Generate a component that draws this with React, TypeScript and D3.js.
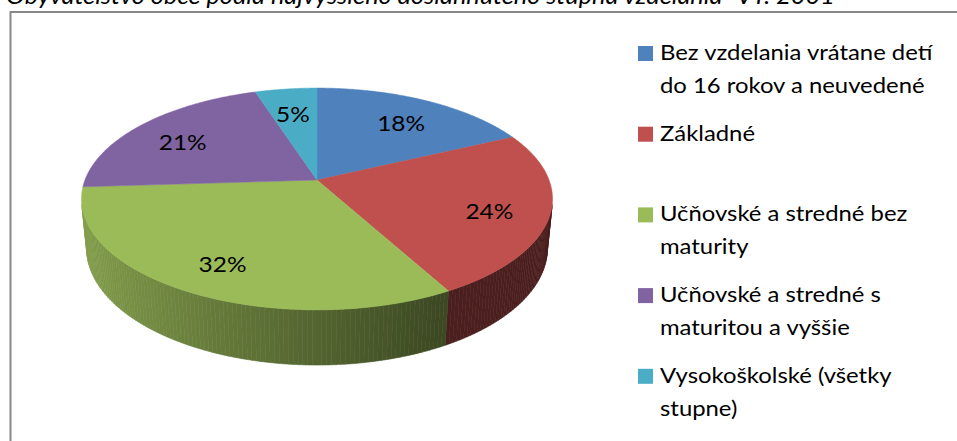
import React from "react";
import * as d3 from "d3";

const title = "Obyvateľstvo obce podľa najvyššieho dosiahnutého stupňa vzdelania- VT. 2001";
const categories = [
  "Bez vzdelania vrátane detí do 16 rokov a neuvedené",
  "Základné",
  "Učňovské a stredné bez maturity",
  "Učňovské a stredné s maturitou a vyššie",
  "Vysokoškolské (všetky stupne)",
];
const legendLines = [
  ["Bez vzdelania vrátane detí", "do 16 rokov a neuvedené"],
  ["Základné"],
  ["Učňovské a stredné bez", "maturity"],
  ["Učňovské a stredné s", "maturitou a vyššie"],
  ["Vysokoškolské (všetky", "stupne)"],
];
const values = [18, 24, 32, 21, 5];
const colors = ["#4F81BD", "#C0504D", "#9BBB59", "#8064A2", "#4BACC6"];

const W = 957;
const H = 441;
const FONT = "Lato, 'Open Sans', sans-serif";
const STRETCH = 1.11;

// perspective camera
const cx = 317;
const cy = 180;
const sinA = 0.464;
const cosA = Math.sqrt(1 - sinA * sinA);
const L = 5.18;
const F = 1202;
const depthH = 0.242;

function proj(r: number, theta: number, y: number): [number, number] {
  const u = r * Math.sin(theta);
  const v = r * Math.cos(theta);
  const depth = L - y * sinA + v * cosA;
  const vert = y * cosA + v * sinA;
  return [cx + (F * u) / depth, cy - (F * vert) / depth];
}

const visCos = -1 / (L * cosA);
const visStart = Math.acos(visCos);
const visEnd = 2 * Math.PI - visStart;

const shade = d3.scaleLinear().domain([-1, 0.45]).range([0.86, 0.39]).clamp(true);

function arcPts(t0: number, t1: number, y: number, step = Math.PI / 360) {
  const n = Math.max(2, Math.ceil((t1 - t0) / step));
  return d3.range(n + 1).map((i) => proj(1, t0 + ((t1 - t0) * i) / n, y));
}

export default function App() {
  const pie = d3.pie<number>().sort(null).value((d) => d);
  const arcs = pie(values);
  const line = d3.line();

  const sides: React.ReactNode[] = [];
  arcs.forEach((a, i) => {
    const s = Math.max(a.startAngle, visStart);
    const e = Math.min(a.endAngle, visEnd);
    if (e <= s) return;
    const step = Math.PI / 180;
    const n = Math.ceil((e - s) / step);
    for (let k = 0; k < n; k++) {
      const t0 = s + ((e - s) * k) / n;
      const t1 = s + ((e - s) * (k + 1)) / n;
      const top = arcPts(t0, t1, 0, step / 4);
      const bot = arcPts(t0, t1, -depthH, step / 4).reverse();
      const f = shade(Math.sin((t0 + t1) / 2));
      const c = d3.rgb(colors[i]);
      const col = d3.rgb(c.r * f, c.g * f, c.b * f).formatHex();
      sides.push(
        <path
          key={`s${i}-${k}`}
          d={line([...top, ...bot])! + "Z"}
          fill={col}
          stroke={col}
          strokeWidth={0.6}
        />
      );
    }
  });

  const tops = arcs.map((a, i) => {
    const pts: [number, number][] = [proj(0, 0, 0), ...arcPts(a.startAngle, a.endAngle, 0)];
    return (
      <path key={`t${i}`} d={line(pts)! + "Z"} fill={colors[i]} stroke={colors[i]} strokeWidth={0.5} />
    );
  });

  const labels = arcs.map((a, i) => {
    const mid = (a.startAngle + a.endAngle) / 2;
    const [x, y] = proj(0.75, mid, 0);
    return (
      <text
        key={`l${i}`}
        transform={`translate(${x},${y + 5}) scale(${STRETCH},1)`}
        dy="0.35em"
        textAnchor="middle"
        fontFamily={FONT}
        fontSize={22}
        fill="#000"
      >
        {values[i]}%
      </text>
    );
  });

  const legend = legendLines.map((lines, i) => {
    const base = 60 + 80.7 * i;
    return (
      <g key={`g${i}`}>
        <rect x={638} y={base - 14} width={15} height={15} fill={colors[i]} />
        {lines.map((t, j) => (
          <text
            key={j}
            transform={`translate(660,${base + j * 32.8}) scale(${STRETCH},1)`}
            fontFamily={FONT}
            fontSize={21.5}
            fill="#000"
          >
            {t}
          </text>
        ))}
      </g>
    );
  });

  return (
    <svg
      width={W}
      height={H}
      style={{ position: "absolute", left: 0, top: 0, background: "#fff" }}
      aria-label={categories.join(", ")}
    >
      <rect x={0} y={0} width={W} height={H} fill="#fff" />
      <text
        transform={`translate(6,4) scale(1.1,1)`}
        fontFamily={FONT}
        fontStyle="italic"
        fontSize={23}
        fill="#000"
      >
        {title}
      </text>
      <rect x={10.5} y={12} width={W + 20} height={H + 20} fill="none" stroke="#888" strokeWidth={2} />
      {sides}
      {tops}
      {labels}
      {legend}
    </svg>
  );
}
